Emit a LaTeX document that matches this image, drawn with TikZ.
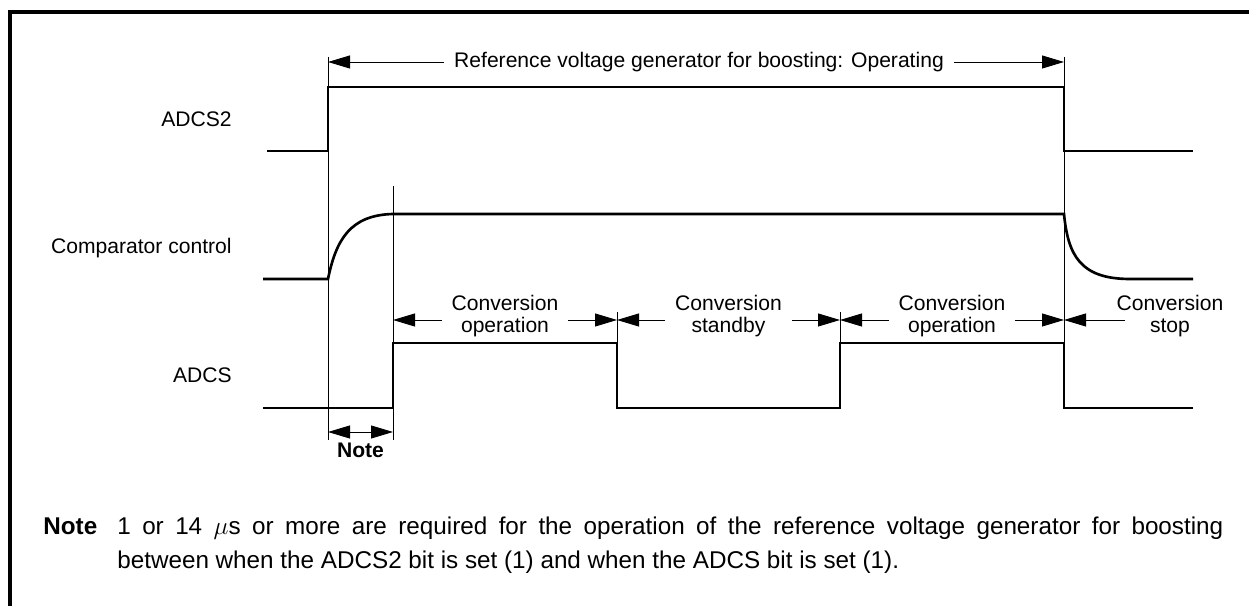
\documentclass[tikz,border=0pt]{standalone}
\usepackage{fontspec}
\setmainfont{Liberation Sans}
\usetikzlibrary{arrows.meta}

\tikzset{
  sig/.style={line width=1.5pt, line join=miter},
  guide/.style={line width=0.5pt},
  dim/.style={line width=0.5pt, {Triangle[length=0.44cm,width=0.26cm]}-{Triangle[length=0.44cm,width=0.26cm]}},
  dimleft/.style={line width=0.5pt, {Triangle[length=0.44cm,width=0.26cm]}-},
  lbl/.style={fill=white, inner xsep=0.2cm, inner ysep=1pt, align=center, font=\fontsize{12}{12.5}\selectfont},
  siglbl/.style={anchor=east, inner sep=0pt, font=\fontsize{12}{14}\selectfont},
  notefont/.style={anchor=base west, inner sep=0pt, font=\fontsize{13.8}{16}\selectfont}
}

\begin{document}
\begin{tikzpicture}
  \useasboundingbox (0,0) rectangle (24.98,12.1);
  % frame
  \draw[line width=1.8pt] (0.2,-0.2) -- (0.2,11.86) -- (25.2,11.86);

  % signal names
  \node[siglbl] (nadcs2) at (4.64,9.72) {ADCS2};
  \node[siglbl] (ncomp)  at (4.64,7.14) {Comparator control};
  \node[siglbl] (nadcs)  at (4.64,4.60) {ADCS};

  % guides
  \draw[guide] (6.56,10.96) -- (6.56,3.3);
  \draw[guide] (7.86,8.38) -- (7.86,3.3);
  \draw[guide] (21.28,10.96) -- (21.28,3.94);
  \foreach \x in {12.34,16.8} {
    \draw[guide] (\x,5.86) -- (\x,5.24);
  }

  % ADCS2
  \draw[sig] (5.34,9.08) -- (6.56,9.08) -- (6.56,10.36) -- (21.28,10.36) -- (21.28,9.08) -- (23.86,9.08);
  % Comparator control
  \draw[sig] (5.26,6.52) -- (6.56,6.52) .. controls (6.72,7.3) and (7.0,7.8) .. (7.86,7.82)
    -- (21.28,7.82) .. controls (21.36,7.0) and (21.6,6.52) .. (22.6,6.52) -- (23.86,6.52);
  % ADCS
  \draw[sig] (5.26,3.94) -- (7.86,3.94) -- (7.86,5.24) -- (12.34,5.24) -- (12.34,3.94)
    -- (16.8,3.94) -- (16.8,5.24) -- (21.28,5.24) -- (21.28,3.94) -- (23.86,3.94);

  % Reference voltage generator
  \coordinate (rv0) at (6.56,10.86);
  \coordinate (rv1) at (21.28,10.86);
  \draw[dim] (rv0) -- (rv1) node[lbl, midway, xshift=0.06cm] (rvlbl) {Reference voltage generator for boosting: Operating};

  % conversion phases
  \foreach \a/\b/\t [count=\i] in {7.86/12.34/{Conversion\\operation}, 12.34/16.8/{Conversion\\standby}, 16.8/21.28/{Conversion\\operation}} {
    \coordinate (ph\i a) at (\a,5.7);
    \coordinate (ph\i b) at (\b,5.7);
    \draw[dim] (ph\i a) -- (ph\i b) node[lbl, midway, yshift=0.08cm] (ph\i lbl) {\t};
  }
  \coordinate (stopa) at (21.28,5.7);
  \coordinate (stopb) at (22.5,5.7);
  \draw[dimleft] (stopa) -- (stopb);
  \node[lbl, fill=none] (stoplbl) at (23.4,5.78) {Conversion\\stop};

  % Note interval
  \coordinate (nt0) at (6.56,3.46);
  \coordinate (nt1) at (7.86,3.46);
  \draw[dim] (nt0) -- (nt1);
  \node[font=\fontsize{12}{14}\selectfont\bfseries] (ntlbl) at (7.21,3.1) {Note};

  % Note text
  \node[notefont, font=\fontsize{13.8}{16}\selectfont\bfseries] (nthead) at (0.86,1.4) {Note};
  \node[notefont] (ntline1) at (2.34,1.4)
    {\makebox[22.12cm][s]{1 or 14 $\mu$s or more are required for the operation of the reference voltage generator for boosting}};
  \node[notefont] (ntline2) at (2.34,0.72)
    {between when the ADCS2 bit is set (1) and when the ADCS bit is set (1).};
\end{tikzpicture}
\end{document}
